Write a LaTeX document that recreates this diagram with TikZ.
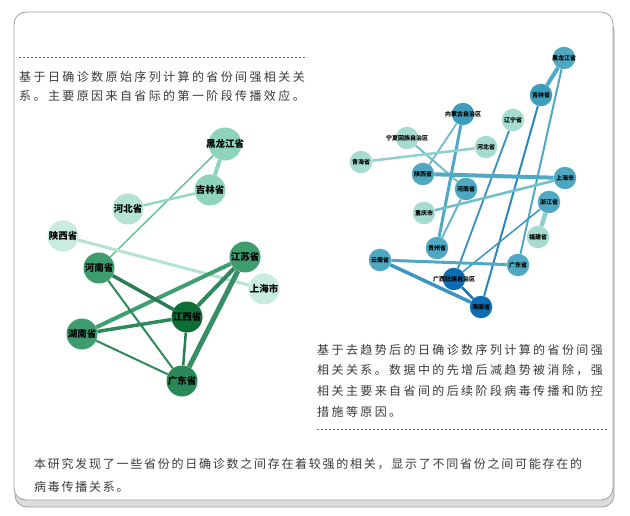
\documentclass[tikz,border=0pt]{standalone}
\usepackage{fontspec}
\setmainfont{Noto Sans CJK SC}
\newfontfamily\cjktext[LetterSpace=20]{Noto Sans CJK SC}
\newfontfamily\cjkbot[LetterSpace=14.5]{Noto Sans CJK SC}
\pgfdeclarelayer{back}
\pgfdeclarelayer{bg}
\pgfsetlayers{back,bg,main}
\definecolor{txt}{HTML}{3A3A3A}
\definecolor{frameline}{HTML}{A0A0A0}
\definecolor{shadowc}{HTML}{DCDCDC}
% left palette
\definecolor{gA}{HTML}{0D6E36}
\definecolor{gB}{HTML}{2A8A57}
\definecolor{gC}{HTML}{3F9C6F}
\definecolor{gD}{HTML}{8ED4BD}
\definecolor{gE}{HTML}{B4E3D4}
\definecolor{gF}{HTML}{C8ECE2}
\definecolor{geA}{HTML}{2E8A5A}
\definecolor{geB}{HTML}{3F9F70}
\definecolor{geC}{HTML}{6DBF9A}
% right palette
\definecolor{tA}{HTML}{4EA8C2}
\definecolor{tB}{HTML}{A6DCCF}
\definecolor{tC}{HTML}{0B6DB3}
\definecolor{tD}{HTML}{3F9DBC}
\definecolor{teA}{HTML}{4FA8C4}
\definecolor{teB}{HTML}{2E86C1}
\definecolor{teC}{HTML}{6FBFC9}
\definecolor{teD}{HTML}{8FD0CF}
\definecolor{teE}{HTML}{1F6FB0}
\begin{document}
\begin{tikzpicture}[x=1pt,y=-1pt,
  lnode/.style={circle,minimum size=31pt,inner sep=0pt,fill=#1},
  rnode/.style={circle,minimum size=22.5pt,inner sep=0pt,fill=#1},
  llab/.style={font=\bfseries\fontsize{9.5}{10}\selectfont,text=black,inner sep=0pt},
  rlab/.style={font=\bfseries\fontsize{6}{7}\selectfont,text=black,inner sep=0pt},
  para/.style={font=\cjktext\fontsize{12}{14}\selectfont,text=txt,inner sep=0pt,anchor=base west},
  parabot/.style={font=\cjkbot\fontsize{12}{14}\selectfont,text=txt,inner sep=0pt,anchor=base west},
  sep/.style={draw=gray!80!black,line width=0.8pt,dash pattern=on 2pt off 2pt},
  edge/.style={line width=#1}]
\useasboundingbox (0,0) rectangle (630,516);
\begin{pgfonlayer}{back}
\fill[white] (0,0) rectangle (630,516);
% frame
\draw[fill=shadowc,draw=frameline,rounded corners=12pt,line width=0.8pt] (15,19) rectangle (614,507);
\draw[fill=white,draw=frameline,rounded corners=12pt,line width=0.8pt] (14,12) rectangle (613,500);
\end{pgfonlayer}
% texts
\draw[sep] (19,57) coordinate (s1a) -- (307,57) coordinate (s1b);
\node[para] (t1) at (19,82) {基于日确诊数原始序列计算的省份间强相关关};
\node[para] (t2) at (19,101) {系。主要原因来自省际的第一阶段传播效应。};
\node[para] (t3) at (317,354) {基于去趋势后的日确诊数序列计算的省份间强};
\node[para] (t4) at (317,374.6) {相关关系。数据中的先增后减趋势被消除，强};
\node[para] (t5) at (317,395.3) {相关主要来自省间的后续阶段病毒传播和防控};
\node[para] (t6) at (317,416.3) {措施等原因。};
\draw[sep] (317,429) coordinate (s2a) -- (608,429) coordinate (s2b);
\node[parabot] (t7) at (34,468.6) {本研究发现了一些省份的日确诊数之间存在着较强的相关，显示了不同省份之间可能存在的};
\node[parabot] (t8) at (34,491.6) {病毒传播关系。};
% ---------- left graph ----------
\node[lnode=gD,minimum size=33pt,label={[llab]center:黑龙江省}] (lhlj) at (225,144) {};
\node[lnode=gD,label={[llab]center:吉林省}] (ljl) at (210,190) {};
\node[lnode=gE,label={[llab]center:河北省}] (lhb) at (128,209) {};
\node[lnode=gF,label={[llab]center:陕西省}] (lsx) at (63,236) {};
\node[lnode=gC,label={[llab]center:江苏省}] (ljs) at (245,257) {};
\node[lnode=gC,label={[llab]center:河南省}] (lhn) at (99,268) {};
\node[lnode=gF,label={[llab]center:上海市}] (lsh) at (264,289) {};
\node[lnode=gA,label={[llab]center:江西省}] (ljx) at (187,317) {};
\node[lnode=gC,label={[llab]center:湖南省}] (lhun) at (82,334) {};
\node[lnode=gB,label={[llab]center:广东省}] (lgd) at (182,381) {};
\begin{pgfonlayer}{bg}
\draw[edge=4pt,gD] (lhlj) -- (ljl);
\draw[edge=1.5pt,geC] (lhlj) -- (lhn);
\draw[edge=2.5pt,gD!80!gE] (lhb) -- (ljl);
\draw[edge=3pt,gE] (lsx) -- (lsh);
\draw[edge=4pt,geB] (ljs) -- (lhun);
\draw[edge=4pt,geA] (ljs) -- (ljx);
\draw[edge=5pt,geB!90!black] (ljs) -- (lgd);
\draw[edge=3.5pt,geA!90!black] (lhn) -- (ljx);
\draw[edge=2pt,geA] (lhn) -- (lgd);
\draw[edge=3.5pt,geA] (lhun) -- (ljx);
\draw[edge=2pt,geA] (lhun) -- (lgd);
\draw[edge=2.5pt,geA!90!black] (ljx) -- (lgd);
\end{pgfonlayer}
% ---------- right graph ----------
\node[rnode=tA,label={[rlab]center:黑龙江省}] (rhlj) at (564,58) {};
\node[rnode=tD,label={[rlab]center:吉林省}] (rjl) at (541,95) {};
\node[rnode=tD,label={[rlab]center:内蒙古自治区}] (rnmg) at (463,114) {};
\node[rnode=tB,label={[rlab]center:辽宁省}] (rln) at (513,120) {};
\node[rnode=tB,label={[rlab]center:宁夏回族自治区}] (rnx) at (407,138) {};
\node[rnode=tB,label={[rlab]center:河北省}] (rhb) at (486,147) {};
\node[rnode=tB,label={[rlab]center:青海省}] (rqh) at (361,162) {};
\node[rnode=tA,label={[rlab]center:陕西省}] (rsx) at (423,174) {};
\node[rnode=tA,label={[rlab]center:河南省}] (rhn) at (466,189) {};
\node[rnode=tA,label={[rlab]center:上海市}] (rsh) at (565,178) {};
\node[rnode=tA,label={[rlab]center:浙江省}] (rzj) at (549,202) {};
\node[rnode=tB,label={[rlab]center:重庆市}] (rcq) at (424,213) {};
\node[rnode=tB,label={[rlab]center:福建省}] (rfj) at (538,237) {};
\node[rnode=tA,label={[rlab]center:贵州省}] (rgz) at (437,248) {};
\node[rnode=tA,label={[rlab]center:云南省}] (ryn) at (380,260) {};
\node[rnode=tA,label={[rlab]center:广东省}] (rgd) at (518,265) {};
\node[rnode=tC,label={[rlab]center:广西壮族自治区}] (rgx) at (454,279) {};
\node[rnode=tC,label={[rlab]center:海南省}] (rhain) at (481,307) {};
\begin{pgfonlayer}{bg}
\draw[edge=4pt,teA] (rhlj) -- (rjl);
\draw[edge=2pt,teA] (rhlj) -- (rgd);
\draw[edge=2pt,teB] (rjl) -- (rhain);
\draw[edge=1.8pt,teB!70!teA] (rln) -- (rgx);
\draw[edge=1.8pt,teA!80!white] (rnmg) -- (rsx);
\draw[edge=3pt,teA] (rnmg) -- (rgz);
\draw[edge=2pt,teC] (rnx) -- (rhn);
\draw[edge=2.5pt,teD] (rqh) -- (rhb);
\draw[edge=4pt,teA] (rsx) -- (rsh);
\draw[edge=2pt,teA!85!white] (rhn) -- (rgz);
\draw[edge=2.5pt,teC] (rsh) -- (rcq);
\draw[edge=4.5pt,teD] (rzj) -- (rfj);
\draw[edge=1.5pt,teB!60!teA] (rzj) -- (rgx);
\draw[edge=3pt,teA] (ryn) -- (rgd);
\draw[edge=3.5pt,teB!60!teA] (ryn) -- (rhain);
\draw[edge=2.5pt,teE] (rgx) -- (rhain);
\end{pgfonlayer}
\end{tikzpicture}
\end{document}
